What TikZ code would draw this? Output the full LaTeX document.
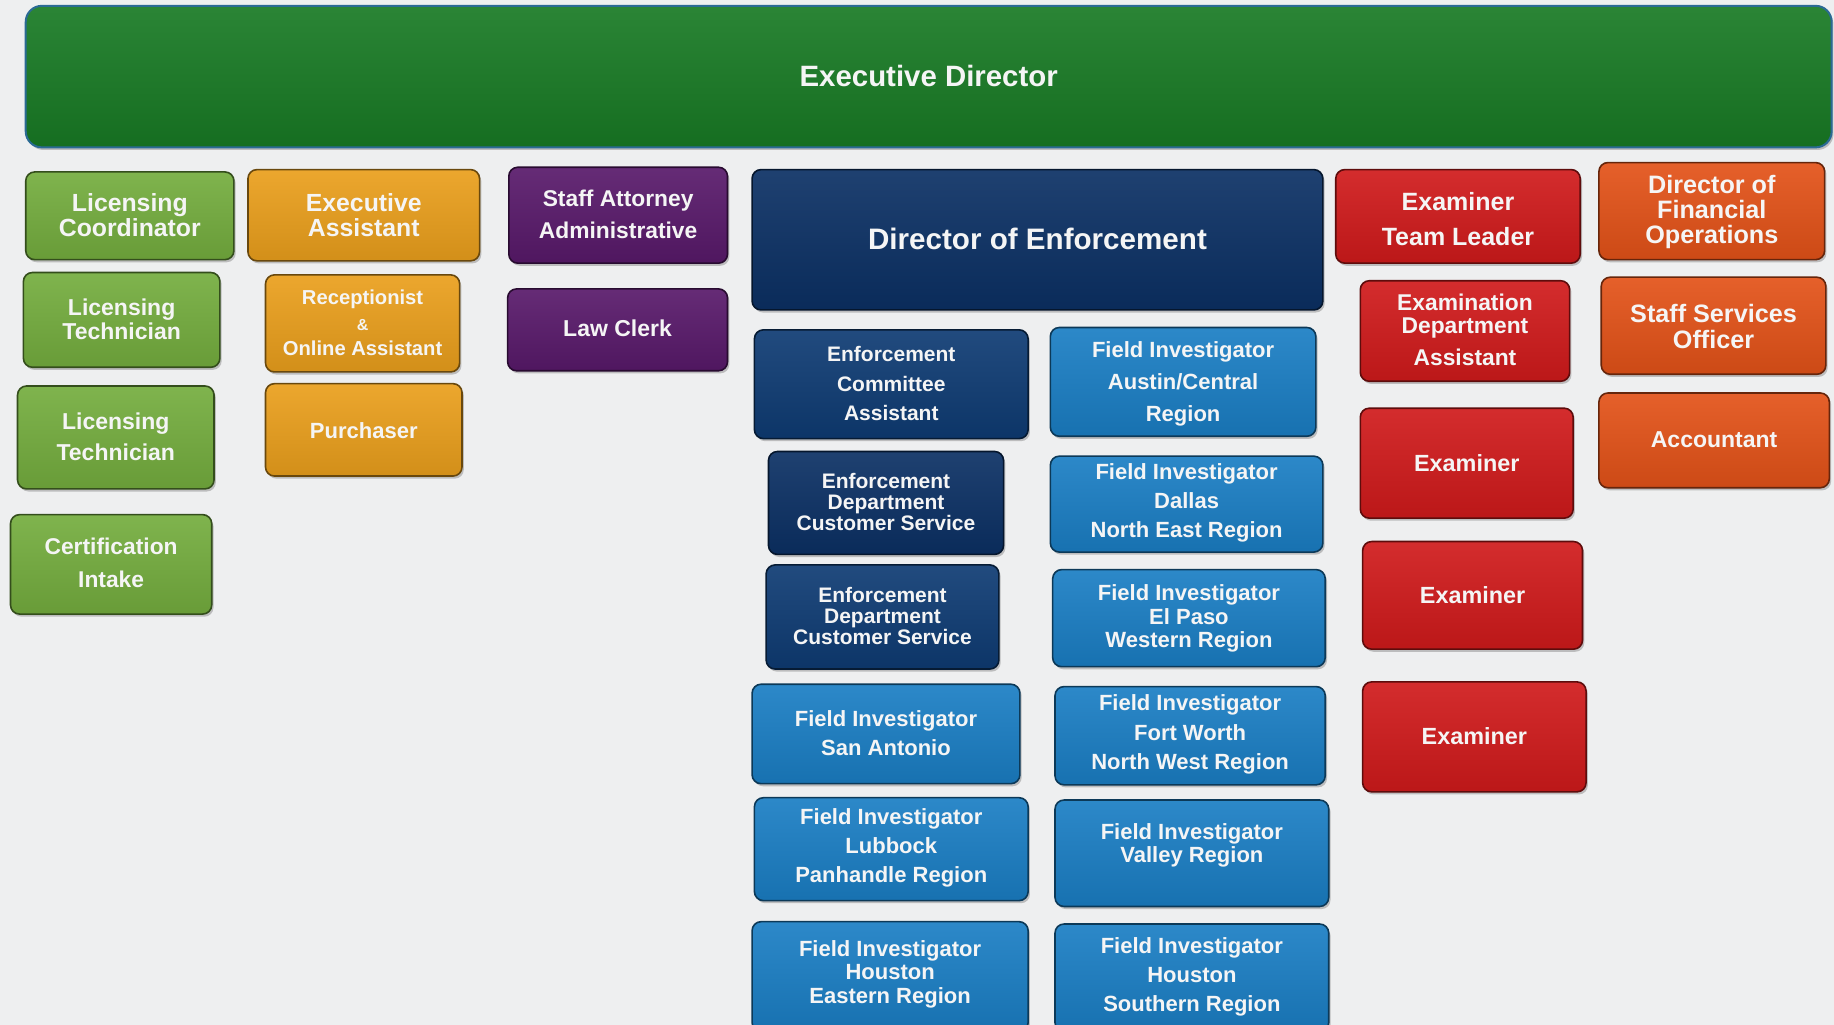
\documentclass[tikz,border=0pt]{standalone}
\usepackage{fontspec}
\setmainfont{Liberation Sans}
\usetikzlibrary{shadows}
\definecolor{bg}{HTML}{EEEFF0}
\definecolor{execgreen}{HTML}{187A24}
\definecolor{lgreen}{HTML}{74AD3E}
\definecolor{ogold}{HTML}{EA9F1C}
\definecolor{purp}{HTML}{58196A}
\definecolor{navy}{HTML}{0B3064}
\definecolor{navytwo}{HTML}{0E3B73}
\definecolor{fblue}{HTML}{1A7EC4}
\definecolor{ered}{HTML}{D01A1B}
\definecolor{ored}{HTML}{E35218}
\definecolor{execedge}{HTML}{2A6A94}
\newcommand\fsz[2]{\fontsize{#1}{#2}\selectfont}
\tikzset{
  tile/.style={rounded corners=4.5pt, inner sep=0pt,
    top color=#1!92!white, bottom color=#1!90!black,
    draw=#1!45!black, line width=0.8pt,
    drop shadow={shadow xshift=0.9pt, shadow yshift=-1.3pt, opacity=0.45}},
  lbl/.style={text=white!96!black, align=center, inner sep=0pt},
  tx-exec/.style={draw=execedge, rounded corners=8pt, line width=1pt},
}
% name, x1, y1, x2, y2, colour, text y, font, text
\newcommand\tile[9]{%
  \node[tile=#6, tx-#1/.try, minimum width={(#4-#2)*0.5848pt}, minimum height={(#5-#3)*0.5848pt}] (#1) at ({(#2+#4)/2},{(#3+#5)/2}) {};
  \node[lbl, font=\bfseries#8] (#1-t) at ({(#2+#4)/2},#7) {#9};}
\begin{document}
\begin{tikzpicture}[x=0.5848pt, y=-0.5848pt]
\useasboundingbox (0,0) rectangle (1568,876);
\fill[bg] (0,0) rectangle (1568,876);
\tile{exec}{22}{5}{1566}{126}{execgreen}{65}{\fsz{14.7}{18}}{Executive Director}
\tile{lc}{22}{147}{200}{222}{lgreen}{184}{\fsz{12.4}{12.9}}{Licensing\\Coordinator}
\tile{lt1}{20}{233}{188}{314}{lgreen}{273}{\fsz{11.5}{11.7}}{Licensing\\Technician}
\tile{lt2}{15}{330}{183}{418}{lgreen}{373.5}{\fsz{11.5}{15.8}}{Licensing\\Technician}
\tile{ci}{9}{440}{181}{525}{lgreen}{481.5}{\fsz{11.4}{16.4}}{Certification\\Intake}
\tile{ea}{212}{145}{410}{223}{ogold}{184}{\fsz{12.4}{12.9}}{Executive\\Assistant}
\tile{rec}{227}{235}{393}{318}{ogold}{276}{\fsz{10.1}{12.9}}{Receptionist\\{\fontsize{8}{9}\selectfont\&}\\Online Assistant}
\tile{pur}{227}{328}{395}{407}{ogold}{368}{\fsz{11}{13}}{Purchaser}
\tile{sa}{435}{143}{622}{225}{purp}{183.5}{\fsz{11.4}{15.8}}{Staff Attorney\\Administrative}
\tile{law}{434}{247}{622}{317}{purp}{281}{\fsz{11.5}{13}}{Law Clerk}
\tile{doe}{643}{145}{1131}{265}{navy}{204}{\fsz{14.8}{18}}{Director of Enforcement}
\tile{eca}{645}{282}{879}{375}{navytwo}{328}{\fsz{10.5}{14.6}}{Enforcement\\Committee\\Assistant}
\tile{csa}{657}{386}{858}{474}{navy}{429}{\fsz{10.5}{10.5}}{Enforcement\\Department\\Customer Service}
\tile{csb}{655}{483}{854}{572}{navytwo}{527}{\fsz{10.5}{10.5}}{Enforcement\\Department\\Customer Service}
\tile{fsa}{643}{585}{872}{670}{fblue}{626.5}{\fsz{11}{14.6}}{Field Investigator\\San Antonio}
\tile{flb}{645}{682}{879}{770}{fblue}{725}{\fsz{11}{14.6}}{Field Investigator\\Lubbock\\Panhandle Region}
\tile{fhe}{643}{788}{879}{882}{fblue}{833}{\fsz{11}{11.7}}{Field Investigator\\Houston\\Eastern Region}
\tile{fau}{898}{280}{1125}{373}{fblue}{328}{\fsz{11}{16}}{Field Investigator\\Austin/Central\\Region}
\tile{fda}{898}{390}{1131}{472}{fblue}{430}{\fsz{11}{14.6}}{Field Investigator\\Dallas\\North East Region}
\tile{fep}{900}{487}{1133}{570}{fblue}{529}{\fsz{11}{11.7}}{Field Investigator\\El Paso\\Western Region}
\tile{ffw}{902}{587}{1133}{671}{fblue}{628}{\fsz{11}{14.6}}{Field Investigator\\Fort Worth\\North West Region}
\tile{fva}{902}{684}{1136}{775}{fblue}{723}{\fsz{11}{11.7}}{Field Investigator\\Valley Region}
\tile{fhs}{902}{790}{1136}{882}{fblue}{835}{\fsz{11}{14.6}}{Field Investigator\\Houston\\Southern Region}
\tile{etl}{1142}{145}{1351}{225}{ered}{187}{\fsz{12.5}{17.5}}{Examiner\\Team Leader}
\tile{eda}{1163}{240}{1342}{326}{ered}{282}{\fsz{11.4}{11.7}}{Examination\\Department\\[4pt]Assistant}
\tile{exa}{1163}{349}{1345}{443}{ered}{396}{\fsz{11.7}{13}}{Examiner}
\tile{exb}{1165}{463}{1353}{555}{ered}{509}{\fsz{11.7}{13}}{Examiner}
\tile{exc}{1165}{583}{1356}{677}{ered}{629}{\fsz{11.7}{13}}{Examiner}
\tile{dfo}{1367}{139}{1560}{222}{ored}{181}{\fsz{12.6}{12.6}}{Director of\\Financial\\Operations}
\tile{sso}{1369}{237}{1561}{320}{ored}{279}{\fsz{12.6}{12.9}}{Staff Services\\Officer}
\tile{acc}{1367}{336}{1564}{417}{ored}{376}{\fsz{11.5}{13}}{Accountant}
\end{tikzpicture}
\end{document}
